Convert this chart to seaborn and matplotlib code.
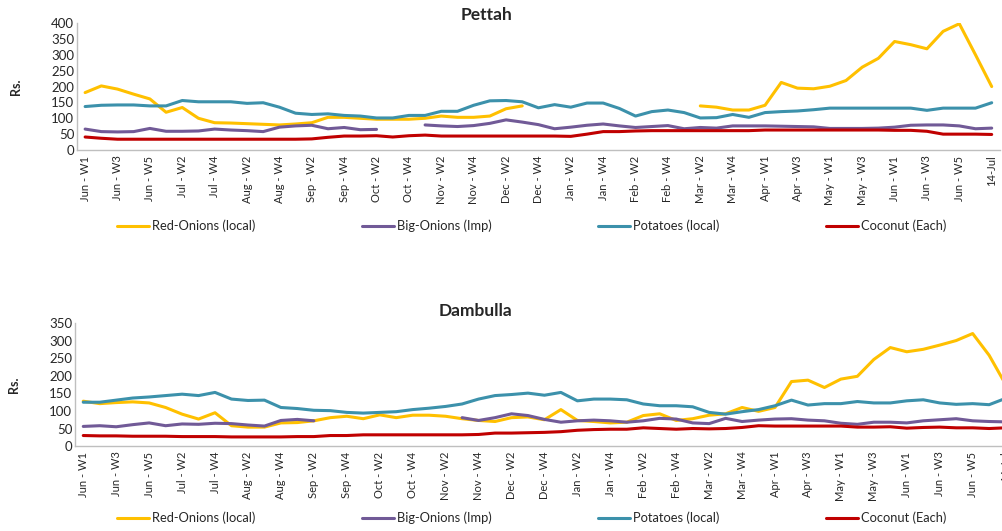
import numpy as np
import pandas as pd
import seaborn as sns
from matplotlib import pyplot as plt
from matplotlib.lines import Line2D

NA = np.nan

weeks = [
    "Jun - W1", "Jun - W2", "Jun - W3", "Jun - W4", "Jun - W5",
    "Jul - W1", "Jul - W2", "Jul - W3", "Jul - W4",
    "Aug - W1", "Aug - W2", "Aug - W3", "Aug - W4",
    "Sep - W1", "Sep - W2", "Sep - W3", "Sep - W4",
    "Oct - W1", "Oct - W2", "Oct - W3", "Oct - W4",
    "Nov - W1", "Nov - W2", "Nov - W3", "Nov - W4",
    "Dec - W1", "Dec - W2", "Dec - W3", "Dec - W4",
    "Jan - W1", "Jan - W2", "Jan - W3", "Jan - W4",
    "Feb - W1", "Feb - W2", "Feb - W3", "Feb - W4",
    "Mar - W1", "Mar - W2", "Mar - W3", "Mar - W4", "Mar - W5",
    "Apr - W1", "Apr - W2", "Apr - W3", "Apr - W4",
    "May - W1", "May - W2", "May - W3", "May - W4",
    "Jun - W1", "Jun - W2", "Jun - W3", "Jun - W4", "Jun - W5",
    "Jul - W1", "14-Jul",
]

items = ["Red-Onions (local)", "Big-Onions (Imp)", "Potatoes (local)", "Coconut (Each)"]
colors = ["#FFC000", "#715A97", "#3C91AB", "#C00000"]

# Pettah
pettah_red = [181, 202, 192, 176, 161, 119, 134, 100, 86, 85, 83, 81, 79, 82, 86, 103, 103, 100, 97, 97,
              97, 100, 107, 103, 103, 107, 130, 139, NA, NA, NA, NA, NA, NA, NA, NA, NA, NA, 139, 135,
              126, 126, 141, 213, 195, 193, 201, 219, 261, 289, 342, 332, 319, 374, 398, 300, 200]
pettah_big = [66, 58, 57, 58, 68, 59, 59, 60, 66, 63, 61, 58, 72, 76, 78, 67, 71, 64, 65, NA,
              NA, 79, 76, 74, 77, 84, 95, 88, 80, 67, 72, 78, 82, 76, 71, 74, 77, 67, 71, 69,
              76, 76, 76, 75, 74, 73, 68, 68, 68, 69, 72, 78, 79, 79, 76, 67, 69]
pettah_potato = [137, 141, 142, 142, 139, 139, 156, 152, 152, 152, 147, 149, 135, 116, 112, 114, 109, 107, 101, 101,
                 109, 109, 122, 122, 141, 155, 156, 152, 133, 143, 135, 148, 148, 131, 107, 121, 126, 118, 101, 102,
                 112, 103, 118, 121, 123, 127, 132, 132, 132, 132, 132, 132, 125, 132, 132, 132, 149]
pettah_coconut = [41, 37, 34, 34, 34, 34, 34, 34, 34, 34, 34, 34, 34, 34, 35, 40, 44, 44, 45, 41,
                  45, 47, 44, 44, 44, 44, 44, 44, 44, 44, 43, 50, 58, 58, 60, 61, 61, 61, 61, 61,
                  61, 61, 63, 63, 63, 63, 63, 63, 63, 63, 62, 62, 59, 50, 50, 50, 49]

# Dambulla
dambulla_red = [128, 121, 124, 126, 123, 110, 91, 77, 95, 58, 54, 54, 66, 67, 72, 81, 85, 78, 89, 81,
                88, 88, 85, 78, 73, 70, 81, 83, 75, 104, 73, 70, 66, 68, 87, 92, 73, 78, 88, 92,
                110, 99, 110, 184, 188, 167, 191, 199, 247, 281, 269, 276, 288, 301, 321, 259, 176]
dambulla_big = [56, 58, 55, 61, 66, 58, 63, 62, 65, 64, 60, 57, 73, 76, 72, NA, NA, NA, NA, NA,
                NA, NA, NA, 81, 73, 81, 92, 87, 76, 68, 72, 74, 72, 68, 72, 79, 77, 66, 64, 79,
                70, 74, 77, 78, 74, 72, 65, 62, 68, 68, 66, 72, 75, 78, 72, 70, 69]
dambulla_potato = [125, 125, 131, 137, 140, 144, 148, 144, 153, 134, 130, 131, 110, 107, 102, 101, 96, 94, 96, 98,
                   104, 108, 113, 120, 134, 144, 147, 151, 145, 153, 129, 134, 134, 132, 120, 115, 115, 112, 96, 91,
                   98, 104, 115, 131, 117, 121, 121, 127, 123, 123, 129, 132, 123, 119, 121, 118, 136]
dambulla_coconut = [30, 29, 29, 28, 28, 28, 27, 27, 27, 26, 26, 26, 26, 27, 27, 30, 30, 32, 32, 32,
                    32, 32, 32, 32, 33, 37, 37, 38, 39, 41, 45, 47, 48, 48, 52, 50, 48, 50, 49, 50,
                    53, 58, 57, 57, 57, 57, 57, 54, 54, 55, 51, 53, 54, 52, 52, 50, 52]

markets = {
    "Pettah": [pettah_red, pettah_big, pettah_potato, pettah_coconut],
    "Dambulla": [dambulla_red, dambulla_big, dambulla_potato, dambulla_coconut],
}


def to_long(series_list):
    frames = []
    for name, values in zip(items, series_list):
        s = pd.Series(values, dtype=float)
        seg = s.isna().cumsum()
        frames.append(pd.DataFrame({"idx": range(len(s)), "price": s, "item": name, "seg": seg}))
    df = pd.concat(frames, ignore_index=True)
    return df.dropna(subset=["price"])


sns.set_style("white")
plt.rcParams["font.family"] = ["Lato", "DejaVu Sans"]

fig = plt.figure(figsize=(10.03, 5.31), dpi=100)

layout = {
    "Pettah": dict(rect=[0.0768, 0.7175, 0.920, 0.239], ymax=400, title_xy=(0.485, 0.972), leg_y=0.574),
    "Dambulla": dict(rect=[0.0748, 0.160, 0.936, 0.231], ymax=350, title_xy=(0.474, 0.414), leg_y=0.0245),
}

for market, series_list in markets.items():
    cfg = layout[market]
    ax = fig.add_axes(cfg["rect"])
    df = to_long(series_list)
    sns.lineplot(data=df, x="idx", y="price", hue="item", units="seg", estimator=None,
                 palette=dict(zip(items, colors)), linewidth=2.2, legend=False, ax=ax)
    ax.set_xlim(-0.5, len(weeks) - 0.5)
    ax.set_ylim(0, cfg["ymax"])
    ax.set_yticks(range(0, cfg["ymax"] + 1, 50))
    ax.set_xticks(range(0, len(weeks), 2))
    ax.set_xticklabels(weeks[::2], rotation=90, fontsize=8)
    ax.tick_params(axis="y", labelsize=9.5, length=0, pad=2)
    ax.tick_params(axis="x", length=0, pad=4)
    ax.set_xlabel("")
    ax.set_ylabel("Rs.", fontsize=9, fontweight="bold", labelpad=21)
    for side in ["top", "right"]:
        ax.spines[side].set_visible(False)
    for side in ["left", "bottom"]:
        ax.spines[side].set_color("#bfbfbf")
        ax.spines[side].set_linewidth(1.0)
    fig.text(cfg["title_xy"][0], cfg["title_xy"][1], market, fontsize=12.5, fontweight="bold",
             ha="center", va="center")
    handles = [Line2D([0], [0], color=c, linewidth=2.2) for c in colors]
    fig.legend(handles, items, loc="center", bbox_to_anchor=(0.53, cfg["leg_y"]), ncol=4,
               frameon=False, fontsize=9.3, handlelength=2.5, handletextpad=0.25, columnspacing=8.2)

fig.savefig("out.png", dpi=100)
